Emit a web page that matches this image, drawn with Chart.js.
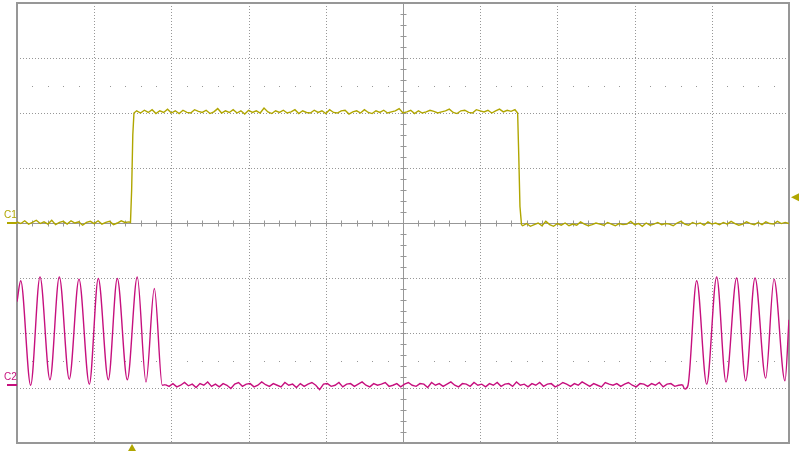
<!DOCTYPE html>
<html>
<head>
<meta charset="utf-8">
<script src="https://cdn.jsdelivr.net/npm/chart.js@4/dist/chart.umd.min.js"></script>
<style>
  html, body { margin: 0; padding: 0; background: #fff; }
  canvas { display: block; }
</style>
</head>
<body>
<canvas id="scope" width="800" height="451"></canvas>
<script>
// all values are in screen divisions (10 x 8 graticule, centre = 0,0)
const sampleStep = 0.05;

// C1 (yellow) - square pulse
const c1LowLeftStart = -5.00;
const c1LowLeft = [0.02,-0.01,0.04,-0.02,0.01,0.05,-0.01,0.02,-0.02,0.05,-0.03,0.01,0.03,-0.02,0.04,0.00,0.02,-0.04,0.01,0.03,-0.01,0.04,-0.02,0.01,0.03,-0.03,0.00,0.04,0.01,0.02];
const c1RiseTimes = [-3.53, -3.515, -3.50, -3.485];
const c1RiseLevels = [0.01, 0.6, 1.6, 2.0];
const c1HighStart = -3.45;
const c1High = [
  2.04,2.00,2.05,2.01,2.06,1.99,2.04,2.01,2.07,2.00,
  2.04,1.99,2.05,2.01,2.00,2.06,2.03,2.01,2.05,1.99,
  2.02,2.08,2.00,2.04,2.01,2.06,2.00,2.04,1.98,2.05,
  2.01,2.04,2.00,2.09,2.02,1.99,2.04,2.01,2.05,2.00,
  2.02,2.06,1.99,2.04,2.01,2.00,2.05,2.01,2.04,1.99,
  2.06,2.01,2.00,2.04,2.05,1.98,2.02,2.04,2.00,2.06,
  2.01,1.99,2.04,2.01,2.05,2.00,2.02,2.04,2.08,2.00,
  2.02,2.05,1.99,2.04,2.00,2.02,2.05,2.03,2.00,2.02,
  2.04,2.07,2.01,1.99,2.04,2.05,2.01,2.00,2.06,2.04,
  2.02,2.05,2.00,2.04,2.07,2.02,2.05,2.03,2.06
];
const c1FallTimes = [1.485, 1.50, 1.515, 1.535];
const c1FallLevels = [2.0, 1.2, 0.3, -0.03];
const c1LowRightStart = 1.55;
const c1LowRight = [
  -0.05,-0.01,-0.06,-0.03,0.00,-0.05,0.03,-0.03,-0.06,-0.01,
  -0.04,0.00,-0.05,-0.02,-0.04,0.02,-0.02,-0.05,-0.03,0.00,
  -0.02,-0.04,0.01,-0.02,-0.05,-0.01,-0.03,-0.02,0.03,-0.03,
  -0.01,-0.06,0.00,-0.04,-0.02,0.01,-0.03,-0.01,-0.02,-0.05,
  0.00,0.03,-0.02,-0.04,0.01,-0.02,0.00,-0.04,0.02,-0.02,
  0.00,-0.03,0.01,-0.02,0.03,-0.01,-0.04,-0.02,0.02,-0.01,
  -0.03,0.01,-0.03,0.02,-0.01,-0.02,0.03,-0.01,0.01,-0.01
];

// C2 (magenta) - burst / idle / burst
const c2BurstLeftTimes = [-5.00,-4.952,-4.823,-4.702,-4.573,-4.452,-4.323,-4.197,-4.063,-3.947,-3.817,-3.701,-3.571,-3.442,-3.329,-3.221,-3.118,-3.08];
const c2BurstLeftLevels = [-1.43,-1.05,-2.95,-0.98,-2.85,-0.98,-2.84,-1.02,-2.93,-1.01,-2.85,-1.01,-2.85,-0.98,-2.89,-1.19,-2.95,-2.94];
const c2FlatStart = -3.08;
const c2Flat = [
  -2.94,-2.97,-2.92,-2.98,-2.95,-2.90,-2.96,-2.93,-2.99,-2.92,
  -2.95,-2.89,-2.97,-2.93,-2.98,-2.92,-2.95,-3.01,-2.93,-2.90,
  -2.97,-2.93,-2.92,-2.98,-2.95,-2.89,-2.94,-2.97,-2.92,-2.95,
  -2.98,-2.90,-2.95,-2.93,-2.99,-2.92,-2.97,-2.93,-2.90,-2.95,
  -3.03,-2.93,-2.92,-2.97,-2.95,-2.90,-2.98,-2.93,-2.92,-2.97,
  -2.93,-2.89,-2.95,-2.98,-2.92,-2.95,-2.93,-2.90,-2.97,-2.95,
  -2.92,-2.98,-2.93,-2.90,-2.95,-2.97,-2.92,-2.93,-2.99,-2.90,
  -2.95,-2.92,-2.97,-2.93,-2.89,-2.95,-2.98,-2.92,-2.93,-2.97,
  -2.90,-2.95,-2.93,-2.98,-2.92,-2.95,-2.90,-2.97,-2.93,-2.92,
  -2.97,-2.89,-2.95,-2.93,-2.98,-2.92,-2.95,-2.90,-2.97,-2.93,
  -2.92,-2.98,-2.95,-2.90,-2.93,-2.97,-2.92,-2.95,-2.89,-2.93,
  -2.97,-2.92,-2.95,-2.98,-2.90,-2.93,-2.95,-2.92,-2.97,-2.93,
  -2.90,-2.95,-2.98,-2.92,-2.93,-2.97,-2.92,-2.95,-2.90,-2.98,
  -2.93,-2.92,-2.97,-2.95,-2.94
];
const c2BurstRightTimes = [3.62,3.653,3.692,3.804,3.934,4.063,4.184,4.322,4.439,4.560,4.698,4.806,4.948,5.00];
const c2BurstRightLevels = [-2.94,-3.02,-2.95,-1.05,-2.93,-0.98,-2.89,-1.00,-2.87,-1.00,-2.82,-1.02,-2.87,-1.76];

// markers
const c1Offset = 0;
const c2Offset = -2.95;
const triggerTime = -3.51;
const triggerLevel = 0.47;

const yellow = '#b0a600';
const magenta = '#c6107e';
const gridGray = '#979797';

function sampled(start, values) {
  return values.map((v, i) => ({ x: +(start + i * sampleStep).toFixed(3), y: v }));
}
function paired(times, levels) {
  return times.map((t, i) => ({ x: t, y: levels[i] }));
}

const c1Data = [].concat(
  sampled(c1LowLeftStart, c1LowLeft),
  paired(c1RiseTimes, c1RiseLevels),
  sampled(c1HighStart, c1High),
  paired(c1FallTimes, c1FallLevels),
  sampled(c1LowRightStart, c1LowRight)
);

// graticule drawn from the scales
const graticule = {
  id: 'graticule',
  beforeDatasetsDraw(chart) {
    const { ctx, chartArea: a, scales: { x, y } } = chart;
    ctx.save();
    ctx.strokeStyle = gridGray;
    ctx.lineWidth = 1;
    ctx.setLineDash([1, 2]);
    for (let i = -4; i <= 4; i++) {
      if (i === 0) continue;
      const px = Math.round(x.getPixelForValue(i)) + 0.5;
      ctx.beginPath(); ctx.moveTo(px, a.top); ctx.lineTo(px, a.bottom); ctx.stroke();
    }
    for (let j = -3; j <= 3; j++) {
      if (j === 0) continue;
      const py = Math.round(y.getPixelForValue(j)) + 0.5;
      ctx.beginPath(); ctx.moveTo(a.left, py); ctx.lineTo(a.right, py); ctx.stroke();
    }
    ctx.setLineDash([]);
    // dot rows at +-2.5 div
    ctx.fillStyle = gridGray;
    [2.5, -2.5].forEach(lv => {
      const py = Math.round(y.getPixelForValue(lv));
      for (let k = -25; k <= 25; k++) {
        if (k % 5 === 0) continue;
        const px = Math.round(x.getPixelForValue(k / 5));
        ctx.fillRect(px, py, 1, 1);
      }
    });
    // centre axes with minor ticks
    const cx = Math.round(x.getPixelForValue(0)) + 0.5;
    const cy = Math.round(y.getPixelForValue(0)) + 0.5;
    ctx.beginPath();
    ctx.moveTo(a.left, cy); ctx.lineTo(a.right, cy);
    ctx.moveTo(cx, a.top); ctx.lineTo(cx, a.bottom);
    for (let k = -25; k <= 25; k++) {
      const px = Math.round(x.getPixelForValue(k / 5)) + 0.5;
      ctx.moveTo(px, cy - 3); ctx.lineTo(px, cy + 3);
    }
    for (let k = -20; k <= 20; k++) {
      const py = Math.round(y.getPixelForValue(k / 5)) + 0.5;
      ctx.moveTo(cx - 3, py); ctx.lineTo(cx + 3, py);
    }
    ctx.stroke();
    // frame
    ctx.lineWidth = 2;
    ctx.strokeRect(a.left, a.top, a.right - a.left, a.bottom - a.top);
    ctx.restore();
  },
  afterDraw(chart) {
    const { ctx, chartArea: a, scales: { x, y } } = chart;
    ctx.save();
    ctx.font = '10px "Liberation Sans", Arial, sans-serif';
    ctx.textBaseline = 'alphabetic';
    [[ 'C1', c1Offset, yellow ], [ 'C2', c2Offset, magenta ]].forEach(([txt, off, col]) => {
      const py = Math.round(y.getPixelForValue(off));
      ctx.fillStyle = col;
      ctx.fillText(txt, 4, py - 5);
      ctx.fillRect(7, py - 1, a.left - 7, 2);
    });
    // trigger position (bottom) and level (right)
    ctx.fillStyle = yellow;
    const tx = x.getPixelForValue(triggerTime);
    ctx.beginPath();
    ctx.moveTo(tx, a.bottom + 1); ctx.lineTo(tx + 4, a.bottom + 8); ctx.lineTo(tx - 4, a.bottom + 8);
    ctx.closePath(); ctx.fill();
    const ty = y.getPixelForValue(triggerLevel);
    ctx.beginPath();
    ctx.moveTo(a.right + 2, ty); ctx.lineTo(a.right + 10, ty - 4); ctx.lineTo(a.right + 10, ty + 4);
    ctx.closePath(); ctx.fill();
    ctx.restore();
  }
};

const trace = (data, color, smooth) => ({
  data: data,
  borderColor: color,
  borderWidth: 1.4,
  pointRadius: 0,
  tension: 0,
  cubicInterpolationMode: smooth ? 'monotone' : 'default',
});

const scopeChart = new Chart(document.getElementById('scope'), {
  type: 'line',
  data: {
    datasets: [
      trace(c1Data, yellow, false),
      trace(paired(c2BurstLeftTimes, c2BurstLeftLevels), magenta, true),
      trace(sampled(c2FlatStart, c2Flat), magenta, false),
      trace(paired(c2BurstRightTimes, c2BurstRightLevels), magenta, true)
    ]
  },
  options: {
    responsive: false,
    animation: false,
    devicePixelRatio: 1,
    layout: { padding: { left: 17, right: 11, top: 3, bottom: 8 } },
    plugins: { legend: { display: false }, tooltip: { enabled: false } },
    scales: {
      x: { type: 'linear', min: -5, max: 5, display: false },
      y: { type: 'linear', min: -4, max: 4, display: false }
    }
  },
  plugins: [graticule]
});
</script>
</body>
</html>
